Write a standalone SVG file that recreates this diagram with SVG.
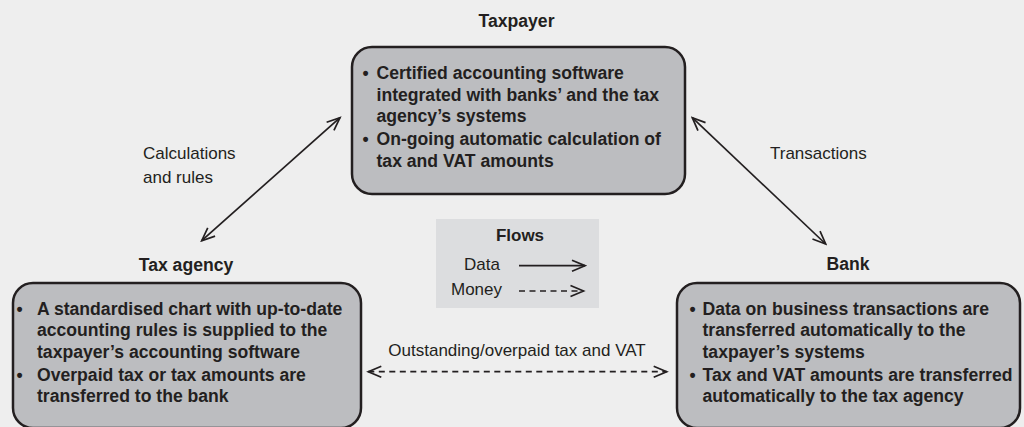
<svg xmlns="http://www.w3.org/2000/svg" width="1024" height="427" viewBox="0 0 1024 427">
<defs>
<style>
.bg{fill:#eeeeee}
.box{fill:#bcbdc0;stroke:#231f20;stroke-width:2.5}
.legend{fill:#dcdddf}
.b{font-family:"Liberation Sans",Arial,sans-serif;font-weight:bold;font-size:17.6px;fill:#231f20}
.r{font-family:"Liberation Sans",Arial,sans-serif;font-size:17px;fill:#231f20}
.h{text-anchor:middle}
.ln{fill:none;stroke:#231f20;stroke-width:1.7}
.dash{stroke-dasharray:6 4.5}
</style>
<marker id="ah" viewBox="-16 -8 18 16" refX="0" refY="0" markerWidth="18" markerHeight="16" markerUnits="userSpaceOnUse" orient="auto-start-reverse">
<path d="M-13,-5.5 L0,0 L-13,5.5" fill="none" stroke="#231f20" stroke-width="1.7"/>
</marker>
</defs>
<rect class="bg" x="0" y="0" width="1024" height="427"/>

<g id="taxpayer">
<text class="b h" x="516.5" y="27">Taxpayer</text>
<rect class="box" x="352" y="47" width="333" height="147" rx="20"/>
<text class="b" x="362.5" y="79.3">•</text>
<text class="b" x="376.5" y="79.3">Certified accounting software</text>
<text class="b" x="376.5" y="100.6">integrated with banks’ and the tax</text>
<text class="b" x="376.5" y="121.9">agency’s systems</text>
<text class="b" x="362.5" y="145.3">•</text>
<text class="b" x="376.5" y="145.3">On-going automatic calculation of</text>
<text class="b" x="376.5" y="166.6">tax and VAT amounts</text>
</g>

<g id="tax-agency">
<text class="b h" x="186" y="270.5">Tax agency</text>
<rect class="box" x="13" y="283" width="348" height="145" rx="20"/>
<text class="b" x="16.5" y="315">•</text>
<text class="b" x="37" y="315">A standardised chart with up-to-date</text>
<text class="b" x="37" y="336.3">accounting rules is supplied to the</text>
<text class="b" x="37" y="357.6">taxpayer’s accounting software</text>
<text class="b" x="16.5" y="381">•</text>
<text class="b" x="37" y="381">Overpaid tax or tax amounts are</text>
<text class="b" x="37" y="402.3">transferred to the bank</text>
</g>

<g id="bank">
<text class="b h" x="848" y="270">Bank</text>
<rect class="box" x="677" y="283" width="343" height="145" rx="20"/>
<text class="b" x="689.5" y="315">•</text>
<text class="b" x="702.5" y="315">Data on business transactions are</text>
<text class="b" x="702.5" y="336.3">transferred automatically to the</text>
<text class="b" x="702.5" y="357.6">taxpayer’s systems</text>
<text class="b" x="689.5" y="381">•</text>
<text class="b" x="702.5" y="381">Tax and VAT amounts are transferred</text>
<text class="b" x="702.5" y="402.3">automatically to the tax agency</text>
</g>

<g id="legend">
<rect class="legend" x="436" y="219" width="163" height="89"/>
<text class="b h" x="520" y="240.7" style="font-size:17px">Flows</text>
<text class="r" x="464" y="270">Data</text>
<text class="r" x="451" y="295">Money</text>
<line class="ln" x1="519" y1="265.7" x2="585" y2="265.7" marker-end="url(#ah)"/>
<line class="ln dash" x1="519" y1="291" x2="583.5" y2="291" marker-end="url(#ah)"/>
</g>

<g id="connectors">
<line class="ln" x1="201.7" y1="240.7" x2="340" y2="117.7" marker-start="url(#ah)" marker-end="url(#ah)"/>
<line class="ln" x1="692.3" y1="117.7" x2="825.7" y2="244" marker-start="url(#ah)" marker-end="url(#ah)"/>
<line class="ln dash" x1="368.3" y1="371.7" x2="666.7" y2="371.7" marker-start="url(#ah)" marker-end="url(#ah)"/>
<text class="r" x="143" y="159.3">Calculations</text>
<text class="r" x="143" y="182.7">and rules</text>
<text class="r" x="770" y="159.3">Transactions</text>
<text class="r h" x="517" y="356">Outstanding/overpaid tax and VAT</text>
</g>
</svg>
